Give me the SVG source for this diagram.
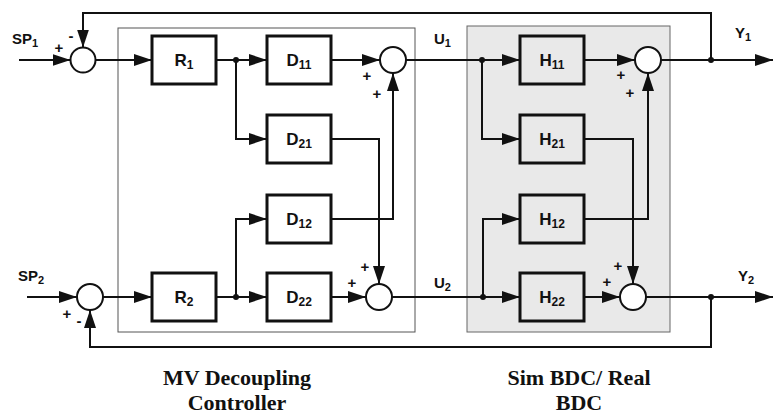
<svg xmlns="http://www.w3.org/2000/svg" width="773" height="417" viewBox="0 0 773 417">
<defs>
<marker id="ah" viewBox="0 0 18 12" refX="18" refY="6" markerWidth="18" markerHeight="12" orient="auto" markerUnits="userSpaceOnUse">
<path d="M0,0 L18,6 L0,12 Z" fill="#111"/>
</marker>
<style>
.blk{fill:none;stroke:#111;stroke-width:3}
.sum{fill:#fff;stroke:#111;stroke-width:2}
.ln{fill:none;stroke:#111;stroke-width:2}
.lab{font-family:"Liberation Sans",Arial,sans-serif;font-weight:bold;font-size:17px;fill:#111;text-anchor:middle}
.sig{font-family:"Liberation Sans",Arial,sans-serif;font-weight:bold;font-size:15px;fill:#111}
.pm{font-family:"Liberation Sans",Arial,sans-serif;font-weight:bold;font-size:15px;fill:#111;text-anchor:middle}
.cap{font-family:"Liberation Serif","Times New Roman",serif;font-weight:bold;font-size:22px;fill:#111;text-anchor:middle}
.dot{fill:#111}
</style>
</defs>
<rect width="773" height="417" fill="#fff"/>
<g id="mv-region"><rect x="118" y="28" width="297" height="304" fill="#fff" stroke="#555" stroke-width="1"/></g>
<g id="bdc-region"><rect x="467" y="26" width="203" height="306" fill="#e9e9e9" stroke="#666" stroke-width="1"/></g>

<g id="connectors">
<path class="ln" d="M19,60 H70.5" marker-end="url(#ah)"/>
<path class="ln" d="M711,60 V13 H83 V47.5" marker-end="url(#ah)"/>
<path class="ln" d="M95.5,60 H152" marker-end="url(#ah)"/>
<path class="ln" d="M216,60 H267" marker-end="url(#ah)"/>
<path class="ln" d="M236,60 V139 H267" marker-end="url(#ah)"/>
<path class="ln" d="M331,60 H380" marker-end="url(#ah)"/>
<path class="ln" d="M331,139 H379 V284" marker-end="url(#ah)"/>
<path class="ln" d="M331,219 H393 V73" marker-end="url(#ah)"/>
<path class="ln" d="M406,60 H520" marker-end="url(#ah)"/>
<path class="ln" d="M482,60 V139 H520" marker-end="url(#ah)"/>
<path class="ln" d="M584,60 H635" marker-end="url(#ah)"/>
<path class="ln" d="M584,139 H633 V284" marker-end="url(#ah)"/>
<path class="ln" d="M584,219 H648 V73" marker-end="url(#ah)"/>
<path class="ln" d="M661,60 H773" marker-end="url(#ah)"/>
<path class="ln" d="M27,297 H77" marker-end="url(#ah)"/>
<path class="ln" d="M103,297 H152" marker-end="url(#ah)"/>
<path class="ln" d="M216,297 H267" marker-end="url(#ah)"/>
<path class="ln" d="M236,297 V219 H267" marker-end="url(#ah)"/>
<path class="ln" d="M331,297 H366" marker-end="url(#ah)"/>
<path class="ln" d="M392,297 H520" marker-end="url(#ah)"/>
<path class="ln" d="M483,297 V219 H520" marker-end="url(#ah)"/>
<path class="ln" d="M584,297 H620" marker-end="url(#ah)"/>
<path class="ln" d="M646,297 H773" marker-end="url(#ah)"/>
<path class="ln" d="M711,297 V347 H90 V310" marker-end="url(#ah)"/>
<circle class="dot" cx="236" cy="60" r="3"/>
<circle class="dot" cx="482" cy="60" r="3"/>
<circle class="dot" cx="711" cy="60" r="3"/>
<circle class="dot" cx="236" cy="297" r="3"/>
<circle class="dot" cx="483" cy="297" r="3"/>
<circle class="dot" cx="711" cy="297" r="3"/>
</g>

<g id="sum1"><circle class="sum" cx="83" cy="60" r="12.5"/>
<text class="pm" x="59" y="53">+</text><text class="pm" x="71" y="41">-</text></g>
<g id="sum6"><circle class="sum" cx="90" cy="297" r="13"/>
<text class="pm" x="67" y="319">+</text><text class="pm" x="79" y="326">-</text></g>
<g id="sum2"><circle class="sum" cx="393" cy="60" r="13"/>
<text class="pm" x="367" y="81">+</text><text class="pm" x="377" y="99">+</text></g>
<g id="sum3"><circle class="sum" cx="648" cy="60" r="13"/>
<text class="pm" x="621" y="80">+</text><text class="pm" x="630" y="98">+</text></g>
<g id="sum4"><circle class="sum" cx="379" cy="297" r="13"/>
<text class="pm" x="365" y="272">+</text><text class="pm" x="352" y="288">+</text></g>
<g id="sum5"><circle class="sum" cx="633" cy="297" r="13"/>
<text class="pm" x="618" y="271">+</text><text class="pm" x="607" y="287">+</text></g>

<g id="R1"><rect class="blk" x="152" y="36" width="64" height="48"/><text class="lab" x="184" y="66">R<tspan font-size="12" dy="3">1</tspan></text></g>
<g id="D11"><rect class="blk" x="267" y="36" width="64" height="48"/><text class="lab" x="299" y="66">D<tspan font-size="12" dy="3">11</tspan></text></g>
<g id="D21"><rect class="blk" x="267" y="115" width="64" height="48"/><text class="lab" x="299" y="145">D<tspan font-size="12" dy="3">21</tspan></text></g>
<g id="D12"><rect class="blk" x="267" y="195" width="64" height="48"/><text class="lab" x="299" y="225">D<tspan font-size="12" dy="3">12</tspan></text></g>
<g id="D22"><rect class="blk" x="267" y="273" width="64" height="48"/><text class="lab" x="299" y="303">D<tspan font-size="12" dy="3">22</tspan></text></g>
<g id="R2"><rect class="blk" x="152" y="273" width="64" height="48"/><text class="lab" x="184" y="303">R<tspan font-size="12" dy="3">2</tspan></text></g>
<g id="H11"><rect class="blk" x="520" y="36" width="64" height="48"/><text class="lab" x="552" y="66">H<tspan font-size="12" dy="3">11</tspan></text></g>
<g id="H21"><rect class="blk" x="520" y="115" width="64" height="48"/><text class="lab" x="552" y="145">H<tspan font-size="12" dy="3">21</tspan></text></g>
<g id="H12"><rect class="blk" x="520" y="195" width="64" height="48"/><text class="lab" x="552" y="225">H<tspan font-size="12" dy="3">12</tspan></text></g>
<g id="H22"><rect class="blk" x="520" y="273" width="64" height="48"/><text class="lab" x="552" y="303">H<tspan font-size="12" dy="3">22</tspan></text></g>

<g id="signals">
<text class="sig" x="12" y="44">SP<tspan font-size="11" dy="3">1</tspan></text>
<text class="sig" x="18" y="281">SP<tspan font-size="11" dy="3">2</tspan></text>
<text class="sig" x="434" y="44">U<tspan font-size="11" dy="3">1</tspan></text>
<text class="sig" x="434" y="288">U<tspan font-size="11" dy="3">2</tspan></text>
<text class="sig" x="735" y="38">Y<tspan font-size="11" dy="3">1</tspan></text>
<text class="sig" x="738" y="281">Y<tspan font-size="11" dy="3">2</tspan></text>
</g>
<g id="captions">
<text class="cap" x="237" y="385">MV Decoupling</text>
<text class="cap" x="237" y="410">Controller</text>
<text class="cap" x="579" y="385">Sim BDC/ Real</text>
<text class="cap" x="579" y="410">BDC</text>
</g>
</svg>
